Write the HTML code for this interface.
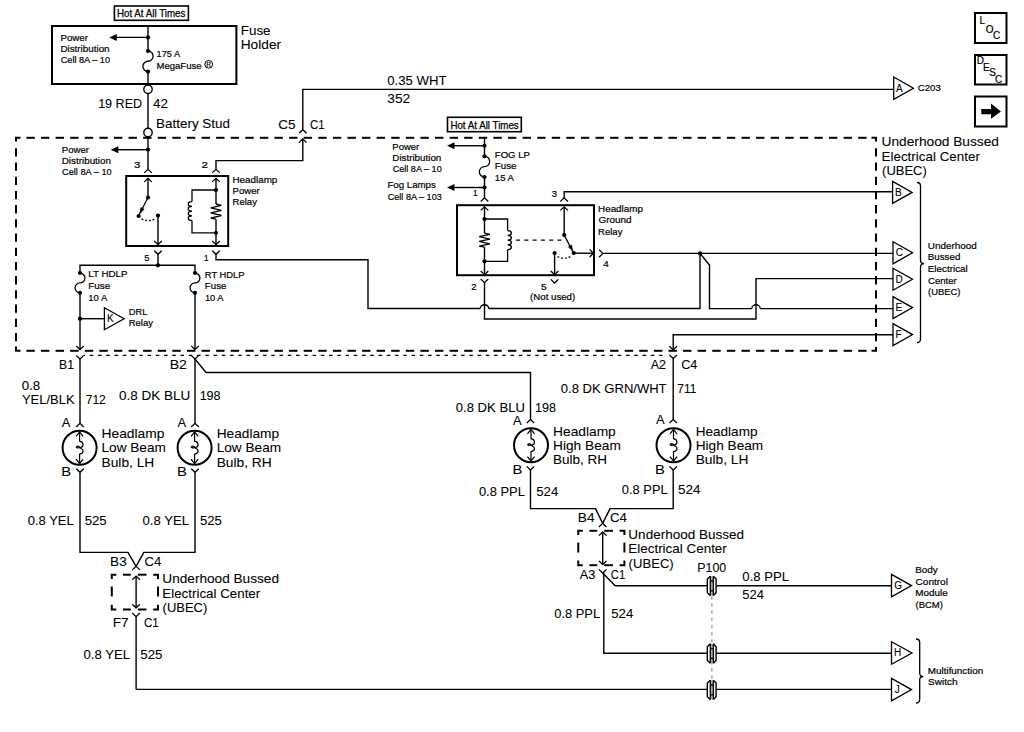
<!DOCTYPE html>
<html><head><meta charset="utf-8"><style>
html,body{margin:0;padding:0;background:#fff;}
svg{display:block;}
text{font-family:"Liberation Sans",sans-serif;fill:#000;stroke:#000;stroke-width:0.08px;}
text.s{stroke-width:0.2px;}
</style></head><body>
<svg width="1024" height="732" viewBox="0 0 1024 732">
<rect width="1024" height="732" fill="#fff"/>
<g stroke="#000" fill="none" stroke-linecap="butt" stroke-linejoin="miter">
<rect x="114.4" y="6" width="74" height="14.3" stroke-width="1.6" fill="none"/>
<text class="s" x="117.00" y="16.8" font-size="10.2" style="stroke-width:0.25px" textLength="68.36" lengthAdjust="spacingAndGlyphs">Hot At All Times</text>
<rect x="52" y="26" width="184.4" height="58" stroke-width="2" fill="none"/>
<line x1="148" y1="26" x2="148" y2="51" stroke-width="1.4"/>
<line x1="148" y1="71.5" x2="148" y2="85" stroke-width="1.4"/>
<line x1="148" y1="37.4" x2="115.3" y2="37.4" stroke-width="1.4"/>
<path d="M109.3,37.4 L116.8,33.9 L116.8,40.9 Z" fill="#000" stroke="none"/>
<circle cx="148" cy="37.4" r="2.1" fill="#000" stroke="none"/>
<path d="M148,51 A5.125,5.125 0 0 1 148,61.25 A5.125,5.125 0 0 0 148,71.5" stroke-width="1.3" />
<circle cx="148" cy="51" r="2.1" fill="#000" stroke="none"/>
<circle cx="148" cy="71.5" r="2.1" fill="#000" stroke="none"/>
<text class="s" x="60.46" y="40.9" font-size="9.4"  textLength="27.46" lengthAdjust="spacingAndGlyphs">Power</text>
<text class="s" x="60.44" y="51.95" font-size="9.4"  textLength="49.14" lengthAdjust="spacingAndGlyphs">Distribution</text>
<text class="s" x="60.78" y="63.0" font-size="9.4"  textLength="49.23" lengthAdjust="spacingAndGlyphs">Cell 8A – 10</text>
<text class="s" x="156.60" y="57.3" font-size="9.4"  textLength="23.42" lengthAdjust="spacingAndGlyphs">175 A</text>
<text class="s" x="156.52" y="68.75" font-size="9.4"  textLength="45.01" lengthAdjust="spacingAndGlyphs">MegaFuse</text>
<circle cx="208.7" cy="64.3" r="3.9" stroke-width="1" fill="none"/>
<text class="s" x="208.70" y="67.2" font-size="6.5" text-anchor="middle" >R</text>
<text x="240.70" y="34.6" font-size="12.8"  textLength="29.90" lengthAdjust="spacingAndGlyphs">Fuse</text>
<text x="240.67" y="48.8" font-size="12.8"  textLength="40.46" lengthAdjust="spacingAndGlyphs">Holder</text>
<circle cx="148" cy="89.3" r="4.2" stroke-width="1.4" fill="#fff"/>
<line x1="148" y1="93.5" x2="148" y2="128.3" stroke-width="1.4"/>
<text x="98.14" y="107.5" font-size="12.8"  textLength="44.07" lengthAdjust="spacingAndGlyphs">19 RED</text>
<text x="152.99" y="107.5" font-size="12.8"  textLength="14.99" lengthAdjust="spacingAndGlyphs">42</text>
<text x="156.00" y="127.5" font-size="12.8"  textLength="74.06" lengthAdjust="spacingAndGlyphs">Battery Stud</text>
<circle cx="148" cy="132.5" r="4.2" stroke-width="1.4" fill="#fff"/>
<line x1="148" y1="136.7" x2="148" y2="169" stroke-width="1.4"/>
<polyline points="16,141.5 16,137.8 20.5,137.8" stroke-width="2"/>
<polyline points="871.5,137.8 876,137.8 876,141.5" stroke-width="2"/>
<polyline points="16,346.6 16,350.8 20.5,350.8" stroke-width="2"/>
<polyline points="871.5,350.8 876,350.8 876,347.1" stroke-width="2"/>
<line x1="26.4" y1="137.8" x2="34.8" y2="137.8" stroke-width="2"/>
<line x1="26.4" y1="350.8" x2="34.8" y2="350.8" stroke-width="2"/>
<line x1="40.99" y1="137.8" x2="49.39" y2="137.8" stroke-width="2"/>
<line x1="40.99" y1="350.8" x2="49.39" y2="350.8" stroke-width="2"/>
<line x1="55.59" y1="137.8" x2="63.99" y2="137.8" stroke-width="2"/>
<line x1="55.59" y1="350.8" x2="63.99" y2="350.8" stroke-width="2"/>
<line x1="70.18" y1="137.8" x2="78.58" y2="137.8" stroke-width="2"/>
<line x1="70.18" y1="350.8" x2="78.58" y2="350.8" stroke-width="2"/>
<line x1="84.77" y1="137.8" x2="93.17" y2="137.8" stroke-width="2"/>
<line x1="84.77" y1="350.8" x2="93.17" y2="350.8" stroke-width="2"/>
<line x1="99.37" y1="137.8" x2="107.77" y2="137.8" stroke-width="2"/>
<line x1="99.37" y1="350.8" x2="107.77" y2="350.8" stroke-width="2"/>
<line x1="113.96" y1="137.8" x2="122.36" y2="137.8" stroke-width="2"/>
<line x1="113.96" y1="350.8" x2="122.36" y2="350.8" stroke-width="2"/>
<line x1="128.55" y1="137.8" x2="136.95" y2="137.8" stroke-width="2"/>
<line x1="128.55" y1="350.8" x2="136.95" y2="350.8" stroke-width="2"/>
<line x1="143.14" y1="137.8" x2="151.54" y2="137.8" stroke-width="2"/>
<line x1="143.14" y1="350.8" x2="151.54" y2="350.8" stroke-width="2"/>
<line x1="157.74" y1="137.8" x2="166.14" y2="137.8" stroke-width="2"/>
<line x1="157.74" y1="350.8" x2="166.14" y2="350.8" stroke-width="2"/>
<line x1="172.33" y1="137.8" x2="180.73" y2="137.8" stroke-width="2"/>
<line x1="172.33" y1="350.8" x2="180.73" y2="350.8" stroke-width="2"/>
<line x1="186.92" y1="137.8" x2="195.32" y2="137.8" stroke-width="2"/>
<line x1="186.92" y1="350.8" x2="195.32" y2="350.8" stroke-width="2"/>
<line x1="201.52" y1="137.8" x2="209.92" y2="137.8" stroke-width="2"/>
<line x1="201.52" y1="350.8" x2="209.92" y2="350.8" stroke-width="2"/>
<line x1="216.11" y1="137.8" x2="224.51" y2="137.8" stroke-width="2"/>
<line x1="216.11" y1="350.8" x2="224.51" y2="350.8" stroke-width="2"/>
<line x1="230.7" y1="137.8" x2="239.1" y2="137.8" stroke-width="2"/>
<line x1="230.7" y1="350.8" x2="239.1" y2="350.8" stroke-width="2"/>
<line x1="245.3" y1="137.8" x2="253.7" y2="137.8" stroke-width="2"/>
<line x1="245.3" y1="350.8" x2="253.7" y2="350.8" stroke-width="2"/>
<line x1="259.89" y1="137.8" x2="268.29" y2="137.8" stroke-width="2"/>
<line x1="259.89" y1="350.8" x2="268.29" y2="350.8" stroke-width="2"/>
<line x1="274.48" y1="137.8" x2="282.88" y2="137.8" stroke-width="2"/>
<line x1="274.48" y1="350.8" x2="282.88" y2="350.8" stroke-width="2"/>
<line x1="289.07" y1="137.8" x2="297.47" y2="137.8" stroke-width="2"/>
<line x1="289.07" y1="350.8" x2="297.47" y2="350.8" stroke-width="2"/>
<line x1="303.67" y1="137.8" x2="312.07" y2="137.8" stroke-width="2"/>
<line x1="303.67" y1="350.8" x2="312.07" y2="350.8" stroke-width="2"/>
<line x1="318.26" y1="137.8" x2="326.66" y2="137.8" stroke-width="2"/>
<line x1="318.26" y1="350.8" x2="326.66" y2="350.8" stroke-width="2"/>
<line x1="332.85" y1="137.8" x2="341.25" y2="137.8" stroke-width="2"/>
<line x1="332.85" y1="350.8" x2="341.25" y2="350.8" stroke-width="2"/>
<line x1="347.45" y1="137.8" x2="355.85" y2="137.8" stroke-width="2"/>
<line x1="347.45" y1="350.8" x2="355.85" y2="350.8" stroke-width="2"/>
<line x1="362.04" y1="137.8" x2="370.44" y2="137.8" stroke-width="2"/>
<line x1="362.04" y1="350.8" x2="370.44" y2="350.8" stroke-width="2"/>
<line x1="376.63" y1="137.8" x2="385.03" y2="137.8" stroke-width="2"/>
<line x1="376.63" y1="350.8" x2="385.03" y2="350.8" stroke-width="2"/>
<line x1="391.22" y1="137.8" x2="399.62" y2="137.8" stroke-width="2"/>
<line x1="391.22" y1="350.8" x2="399.62" y2="350.8" stroke-width="2"/>
<line x1="405.82" y1="137.8" x2="414.22" y2="137.8" stroke-width="2"/>
<line x1="405.82" y1="350.8" x2="414.22" y2="350.8" stroke-width="2"/>
<line x1="420.41" y1="137.8" x2="428.81" y2="137.8" stroke-width="2"/>
<line x1="420.41" y1="350.8" x2="428.81" y2="350.8" stroke-width="2"/>
<line x1="435.0" y1="137.8" x2="443.4" y2="137.8" stroke-width="2"/>
<line x1="435.0" y1="350.8" x2="443.4" y2="350.8" stroke-width="2"/>
<line x1="449.6" y1="137.8" x2="458.0" y2="137.8" stroke-width="2"/>
<line x1="449.6" y1="350.8" x2="458.0" y2="350.8" stroke-width="2"/>
<line x1="464.19" y1="137.8" x2="472.59" y2="137.8" stroke-width="2"/>
<line x1="464.19" y1="350.8" x2="472.59" y2="350.8" stroke-width="2"/>
<line x1="478.78" y1="137.8" x2="487.18" y2="137.8" stroke-width="2"/>
<line x1="478.78" y1="350.8" x2="487.18" y2="350.8" stroke-width="2"/>
<line x1="493.38" y1="137.8" x2="501.78" y2="137.8" stroke-width="2"/>
<line x1="493.38" y1="350.8" x2="501.78" y2="350.8" stroke-width="2"/>
<line x1="507.97" y1="137.8" x2="516.37" y2="137.8" stroke-width="2"/>
<line x1="507.97" y1="350.8" x2="516.37" y2="350.8" stroke-width="2"/>
<line x1="522.56" y1="137.8" x2="530.96" y2="137.8" stroke-width="2"/>
<line x1="522.56" y1="350.8" x2="530.96" y2="350.8" stroke-width="2"/>
<line x1="537.15" y1="137.8" x2="545.55" y2="137.8" stroke-width="2"/>
<line x1="537.15" y1="350.8" x2="545.55" y2="350.8" stroke-width="2"/>
<line x1="551.75" y1="137.8" x2="560.15" y2="137.8" stroke-width="2"/>
<line x1="551.75" y1="350.8" x2="560.15" y2="350.8" stroke-width="2"/>
<line x1="566.34" y1="137.8" x2="574.74" y2="137.8" stroke-width="2"/>
<line x1="566.34" y1="350.8" x2="574.74" y2="350.8" stroke-width="2"/>
<line x1="580.93" y1="137.8" x2="589.33" y2="137.8" stroke-width="2"/>
<line x1="580.93" y1="350.8" x2="589.33" y2="350.8" stroke-width="2"/>
<line x1="595.53" y1="137.8" x2="603.93" y2="137.8" stroke-width="2"/>
<line x1="595.53" y1="350.8" x2="603.93" y2="350.8" stroke-width="2"/>
<line x1="610.12" y1="137.8" x2="618.52" y2="137.8" stroke-width="2"/>
<line x1="610.12" y1="350.8" x2="618.52" y2="350.8" stroke-width="2"/>
<line x1="624.71" y1="137.8" x2="633.11" y2="137.8" stroke-width="2"/>
<line x1="624.71" y1="350.8" x2="633.11" y2="350.8" stroke-width="2"/>
<line x1="639.31" y1="137.8" x2="647.71" y2="137.8" stroke-width="2"/>
<line x1="639.31" y1="350.8" x2="647.71" y2="350.8" stroke-width="2"/>
<line x1="653.9" y1="137.8" x2="662.3" y2="137.8" stroke-width="2"/>
<line x1="653.9" y1="350.8" x2="662.3" y2="350.8" stroke-width="2"/>
<line x1="668.49" y1="137.8" x2="676.89" y2="137.8" stroke-width="2"/>
<line x1="668.49" y1="350.8" x2="676.89" y2="350.8" stroke-width="2"/>
<line x1="683.08" y1="137.8" x2="691.48" y2="137.8" stroke-width="2"/>
<line x1="683.08" y1="350.8" x2="691.48" y2="350.8" stroke-width="2"/>
<line x1="697.68" y1="137.8" x2="706.08" y2="137.8" stroke-width="2"/>
<line x1="697.68" y1="350.8" x2="706.08" y2="350.8" stroke-width="2"/>
<line x1="712.27" y1="137.8" x2="720.67" y2="137.8" stroke-width="2"/>
<line x1="712.27" y1="350.8" x2="720.67" y2="350.8" stroke-width="2"/>
<line x1="726.86" y1="137.8" x2="735.26" y2="137.8" stroke-width="2"/>
<line x1="726.86" y1="350.8" x2="735.26" y2="350.8" stroke-width="2"/>
<line x1="741.46" y1="137.8" x2="749.86" y2="137.8" stroke-width="2"/>
<line x1="741.46" y1="350.8" x2="749.86" y2="350.8" stroke-width="2"/>
<line x1="756.05" y1="137.8" x2="764.45" y2="137.8" stroke-width="2"/>
<line x1="756.05" y1="350.8" x2="764.45" y2="350.8" stroke-width="2"/>
<line x1="770.64" y1="137.8" x2="779.04" y2="137.8" stroke-width="2"/>
<line x1="770.64" y1="350.8" x2="779.04" y2="350.8" stroke-width="2"/>
<line x1="785.24" y1="137.8" x2="793.64" y2="137.8" stroke-width="2"/>
<line x1="785.24" y1="350.8" x2="793.64" y2="350.8" stroke-width="2"/>
<line x1="799.83" y1="137.8" x2="808.23" y2="137.8" stroke-width="2"/>
<line x1="799.83" y1="350.8" x2="808.23" y2="350.8" stroke-width="2"/>
<line x1="814.42" y1="137.8" x2="822.82" y2="137.8" stroke-width="2"/>
<line x1="814.42" y1="350.8" x2="822.82" y2="350.8" stroke-width="2"/>
<line x1="829.01" y1="137.8" x2="837.41" y2="137.8" stroke-width="2"/>
<line x1="829.01" y1="350.8" x2="837.41" y2="350.8" stroke-width="2"/>
<line x1="843.61" y1="137.8" x2="852.01" y2="137.8" stroke-width="2"/>
<line x1="843.61" y1="350.8" x2="852.01" y2="350.8" stroke-width="2"/>
<line x1="858.2" y1="137.8" x2="866.6" y2="137.8" stroke-width="2"/>
<line x1="858.2" y1="350.8" x2="866.6" y2="350.8" stroke-width="2"/>
<line x1="16" y1="148.3" x2="16" y2="156.6" stroke-width="2"/>
<line x1="876" y1="148.3" x2="876" y2="156.6" stroke-width="2"/>
<line x1="16" y1="162.5" x2="16" y2="170.8" stroke-width="2"/>
<line x1="876" y1="162.5" x2="876" y2="170.8" stroke-width="2"/>
<line x1="16" y1="176.7" x2="16" y2="185.0" stroke-width="2"/>
<line x1="876" y1="176.7" x2="876" y2="185.0" stroke-width="2"/>
<line x1="16" y1="190.9" x2="16" y2="199.2" stroke-width="2"/>
<line x1="876" y1="190.9" x2="876" y2="199.2" stroke-width="2"/>
<line x1="16" y1="205.1" x2="16" y2="213.4" stroke-width="2"/>
<line x1="876" y1="205.1" x2="876" y2="213.4" stroke-width="2"/>
<line x1="16" y1="219.3" x2="16" y2="227.6" stroke-width="2"/>
<line x1="876" y1="219.3" x2="876" y2="227.6" stroke-width="2"/>
<line x1="16" y1="233.5" x2="16" y2="241.8" stroke-width="2"/>
<line x1="876" y1="233.5" x2="876" y2="241.8" stroke-width="2"/>
<line x1="16" y1="247.7" x2="16" y2="256.0" stroke-width="2"/>
<line x1="876" y1="247.7" x2="876" y2="256.0" stroke-width="2"/>
<line x1="16" y1="261.9" x2="16" y2="270.2" stroke-width="2"/>
<line x1="876" y1="261.9" x2="876" y2="270.2" stroke-width="2"/>
<line x1="16" y1="276.1" x2="16" y2="284.4" stroke-width="2"/>
<line x1="876" y1="276.1" x2="876" y2="284.4" stroke-width="2"/>
<line x1="16" y1="290.3" x2="16" y2="298.6" stroke-width="2"/>
<line x1="876" y1="290.3" x2="876" y2="298.6" stroke-width="2"/>
<line x1="16" y1="304.5" x2="16" y2="312.8" stroke-width="2"/>
<line x1="876" y1="304.5" x2="876" y2="312.8" stroke-width="2"/>
<line x1="16" y1="318.7" x2="16" y2="327.0" stroke-width="2"/>
<line x1="876" y1="318.7" x2="876" y2="327.0" stroke-width="2"/>
<line x1="16" y1="332.9" x2="16" y2="341.2" stroke-width="2"/>
<line x1="876" y1="332.9" x2="876" y2="341.2" stroke-width="2"/>
<text x="881.54" y="146" font-size="12.8"  textLength="117.44" lengthAdjust="spacingAndGlyphs">Underhood Bussed</text>
<text x="881.50" y="160.6" font-size="12.8"  textLength="98.43" lengthAdjust="spacingAndGlyphs">Electrical Center</text>
<text x="882.10" y="174.5" font-size="12.8"  textLength="44.71" lengthAdjust="spacingAndGlyphs">(UBEC)</text>
<text class="s" x="61.71" y="152.9" font-size="9.4"  textLength="27.36" lengthAdjust="spacingAndGlyphs">Power</text>
<text class="s" x="61.69" y="164.15" font-size="9.4"  textLength="49.35" lengthAdjust="spacingAndGlyphs">Distribution</text>
<text class="s" x="62.03" y="175.4" font-size="9.4"  textLength="49.63" lengthAdjust="spacingAndGlyphs">Cell 8A – 10</text>
<line x1="148" y1="149.7" x2="116.8" y2="149.7" stroke-width="1.4"/>
<path d="M110.8,149.7 L118.3,146.2 L118.3,153.2 Z" fill="#000" stroke="none"/>
<circle cx="148" cy="149.7" r="2.1" fill="#000" stroke="none"/>
<text class="s" x="134.07" y="167.9" font-size="9.4"  textLength="6.34" lengthAdjust="spacingAndGlyphs">3</text>
<text class="s" x="201.62" y="167.9" font-size="9.4"  textLength="6.46" lengthAdjust="spacingAndGlyphs">2</text>
<path d="M144.2,172.9 L148,169.3 L151.8,172.9" stroke-width="1.3" />
<rect x="126.2" y="176" width="102" height="70" stroke-width="2" fill="none"/>
<path d="M144.2,181.9 L148,178.3 L151.8,181.9" stroke-width="1.3" />
<line x1="148" y1="178.3" x2="148" y2="197.5" stroke-width="1.4"/>
<circle cx="148" cy="197.5" r="2.1" fill="#000" stroke="none"/>
<line x1="148" y1="197.5" x2="138.6" y2="215.8" stroke-width="1.3"/>
<path d="M140.2,213.2 L144.2,209.2 L140.8,207.5 Z" fill="#000" stroke="#000" stroke-width="0.6"/>
<circle cx="138.6" cy="216" r="2.1" fill="#000" stroke="none"/>
<path d="M141.5,218.8 Q149,222.5 156,218.6" stroke-width="1.4" stroke-dasharray="1.9 1.9" fill="none"/>
<circle cx="158" cy="215.6" r="2.1" fill="#000" stroke="none"/>
<line x1="158" y1="215.6" x2="158" y2="245" stroke-width="1.4"/>
<path d="M154.2,241.0 L158,244.6 L161.8,241.0" stroke-width="1.3" />
<path d="M154.2,250.70000000000002 L158,254.3 L161.8,250.70000000000002" stroke-width="1.3" />
<line x1="158" y1="254.3" x2="158" y2="265.3" stroke-width="1.4"/>
<polyline points="216,190 192,190 192,201.6" stroke-width="1.3"/>
<path d="M192,201.6 C187,201.6 187,206.325 192,206.325 C187,206.325 187,211.04999999999998 192,211.04999999999998 C187,211.05 187,215.775 192,215.775 C187,215.775 187,220.5 192,220.5" stroke-width="1.3" />
<polyline points="192,220.5 192,232.8 216,232.8" stroke-width="1.3"/>
<path d="M212.2,181.9 L216,178.3 L219.8,181.9" stroke-width="1.3" />
<line x1="216" y1="178.3" x2="216" y2="204" stroke-width="1.4"/>
<polyline points="216,204 221.4,205.46 210.7,207.9 221.4,210.43 210.7,212.87 221.4,215.5 210.7,218.13 216,219.2" stroke-width="1.3"/>
<line x1="216" y1="219.2" x2="216" y2="245" stroke-width="1.4"/>
<path d="M212.2,241.0 L216,244.6 L219.8,241.0" stroke-width="1.3" />
<circle cx="216" cy="190" r="2.1" fill="#000" stroke="none"/>
<circle cx="216" cy="232.8" r="2.1" fill="#000" stroke="none"/>
<path d="M212.2,250.70000000000002 L216,254.3 L219.8,250.70000000000002" stroke-width="1.3" />
<polyline points="216,254.3 216,259.8 368,259.8 368,308.5 480.3,308.5" stroke-width="1.4"/>
<path d="M480.3,308.5 A4.2,3.8 0 0 1 488.7,308.5" stroke-width="1.4" />
<polyline points="488.7,308.5 700,308.5 700,253.4" stroke-width="1.4"/>
<path d="M212.2,172.9 L216,169.3 L219.8,172.9" stroke-width="1.3" />
<polyline points="216,169.3 216,160.6 302.8,160.6 302.8,139" stroke-width="1.4"/>
<path d="M299.0,142.6 L302.8,139 L306.6,142.6" stroke-width="1.3" />
<path d="M299.0,133.29999999999998 L302.8,129.7 L306.6,133.29999999999998" stroke-width="1.3" />
<polyline points="302.8,129.7 302.8,89.4 893.5,89.4" stroke-width="1.4"/>
<text x="278.31" y="129.1" font-size="12.8"  textLength="17.37" lengthAdjust="spacingAndGlyphs">C5</text>
<text x="309.92" y="129.1" font-size="12.8"  textLength="14.65" lengthAdjust="spacingAndGlyphs">C1</text>
<text x="387.29" y="84.8" font-size="12.8"  textLength="59.22" lengthAdjust="spacingAndGlyphs">0.35 WHT</text>
<text x="387.28" y="102.8" font-size="12.8"  textLength="22.92" lengthAdjust="spacingAndGlyphs">352</text>
<path d="M893.7,77.0 L913.4000000000001,88.2 L893.7,99.4 Z" stroke-width="1.3" fill="#fff"/>
<text class="s" x="896.08" y="91.60000000000001" font-size="10" style="stroke-width:0.1px">A</text>
<text class="s" x="917.81" y="90.8" font-size="9.4"  textLength="23.02" lengthAdjust="spacingAndGlyphs">C203</text>
<text class="s" x="144.22" y="261.2" font-size="9.4" >5</text>
<text class="s" x="203.98" y="261.2" font-size="9.4"  textLength="4.52" lengthAdjust="spacingAndGlyphs">1</text>
<text class="s" x="232.49" y="182.5" font-size="9.4"  textLength="44.82" lengthAdjust="spacingAndGlyphs">Headlamp</text>
<text class="s" x="232.51" y="193.8" font-size="9.4"  textLength="27.15" lengthAdjust="spacingAndGlyphs">Power</text>
<text class="s" x="232.52" y="205.1" font-size="9.4"  textLength="24.40" lengthAdjust="spacingAndGlyphs">Relay</text>
<polyline points="80,273 80,265.2 195,265.2 195,273" stroke-width="1.4"/>
<circle cx="158" cy="265.3" r="2.1" fill="#000" stroke="none"/>
<path d="M80,273 A4.950000000000003,4.950000000000003 0 0 1 80,282.9 A4.950000000000003,4.950000000000003 0 0 0 80,292.8" stroke-width="1.3" />
<circle cx="80" cy="273" r="2.1" fill="#000" stroke="none"/>
<circle cx="80" cy="292.8" r="2.1" fill="#000" stroke="none"/>
<path d="M195,273 A4.950000000000003,4.950000000000003 0 0 1 195,282.9 A4.950000000000003,4.950000000000003 0 0 0 195,292.8" stroke-width="1.3" />
<circle cx="195" cy="273" r="2.1" fill="#000" stroke="none"/>
<circle cx="195" cy="292.8" r="2.1" fill="#000" stroke="none"/>
<text class="s" x="88.20" y="277.4" font-size="9.4"  textLength="39.22" lengthAdjust="spacingAndGlyphs">LT HDLP</text>
<text class="s" x="88.19" y="289.15" font-size="9.4"  textLength="21.95" lengthAdjust="spacingAndGlyphs">Fuse</text>
<text class="s" x="88.28" y="300.9" font-size="9.4"  textLength="18.94" lengthAdjust="spacingAndGlyphs">10 A</text>
<text class="s" x="204.83" y="277.6" font-size="9.4"  textLength="39.77" lengthAdjust="spacingAndGlyphs">RT HDLP</text>
<text class="s" x="204.80" y="289.35" font-size="9.4"  textLength="21.73" lengthAdjust="spacingAndGlyphs">Fuse</text>
<text class="s" x="204.89" y="301.1" font-size="9.4"  textLength="18.73" lengthAdjust="spacingAndGlyphs">10 A</text>
<line x1="80" y1="292.8" x2="80" y2="349.5" stroke-width="1.4"/>
<path d="M76.2,345.9 L80,349.5 L83.8,345.9" stroke-width="1.3" />
<line x1="195" y1="292.8" x2="195" y2="349.5" stroke-width="1.4"/>
<path d="M191.2,345.9 L195,349.5 L198.8,345.9" stroke-width="1.3" />
<circle cx="80" cy="318.7" r="2.1" fill="#000" stroke="none"/>
<line x1="80" y1="318.7" x2="104.4" y2="318.7" stroke-width="1.4"/>
<path d="M104.4,307.7 L124.10000000000001,318.7 L104.4,329.7 Z" stroke-width="1.3" fill="#fff"/>
<text class="s" x="106.88" y="322.09999999999997" font-size="10" style="stroke-width:0.1px">K</text>
<text class="s" x="128.74" y="315.4" font-size="9.4"  textLength="18.57" lengthAdjust="spacingAndGlyphs">DRL</text>
<text class="s" x="128.72" y="326.2" font-size="9.4"  textLength="24.19" lengthAdjust="spacingAndGlyphs">Relay</text>
<rect x="447.5" y="117.3" width="73.8" height="14.4" stroke-width="1.6" fill="none"/>
<text class="s" x="450.40" y="128.5" font-size="10.2" style="stroke-width:0.25px" textLength="68.36" lengthAdjust="spacingAndGlyphs">Hot At All Times</text>
<line x1="484.5" y1="138" x2="484.5" y2="156.25" stroke-width="1.4"/>
<line x1="484.5" y1="145.75" x2="453" y2="145.75" stroke-width="1.4"/>
<path d="M447,145.75 L454.5,142.25 L454.5,149.25 Z" fill="#000" stroke="none"/>
<circle cx="484.5" cy="145.75" r="2.1" fill="#000" stroke="none"/>
<path d="M484.5,156.25 A5.1875,5.1875 0 0 1 484.5,166.625 A5.1875,5.1875 0 0 0 484.5,177" stroke-width="1.3" />
<circle cx="484.5" cy="156.25" r="2.1" fill="#000" stroke="none"/>
<circle cx="484.5" cy="177" r="2.1" fill="#000" stroke="none"/>
<line x1="484.5" y1="177" x2="484.5" y2="197.9" stroke-width="1.4"/>
<line x1="484.5" y1="187.5" x2="453" y2="187.5" stroke-width="1.4"/>
<path d="M447,187.5 L454.5,184.0 L454.5,191.0 Z" fill="#000" stroke="none"/>
<circle cx="484.5" cy="187.5" r="2.1" fill="#000" stroke="none"/>
<text class="s" x="392.32" y="149.5" font-size="9.4"  textLength="26.84" lengthAdjust="spacingAndGlyphs">Power</text>
<text class="s" x="392.30" y="160.5" font-size="9.4"  textLength="49.04" lengthAdjust="spacingAndGlyphs">Distribution</text>
<text class="s" x="392.64" y="171.5" font-size="9.4"  textLength="49.13" lengthAdjust="spacingAndGlyphs">Cell 8A – 10</text>
<text class="s" x="387.41" y="188.3" font-size="9.4"  textLength="48.45" lengthAdjust="spacingAndGlyphs">Fog Lamps</text>
<text class="s" x="387.74" y="200.0" font-size="9.4"  textLength="54.06" lengthAdjust="spacingAndGlyphs">Cell 8A – 103</text>
<text class="s" x="494.82" y="157.6" font-size="9.4"  textLength="34.99" lengthAdjust="spacingAndGlyphs">FOG LP</text>
<text class="s" x="494.80" y="169.3" font-size="9.4"  textLength="21.73" lengthAdjust="spacingAndGlyphs">Fuse</text>
<text class="s" x="494.88" y="181.0" font-size="9.4"  textLength="19.04" lengthAdjust="spacingAndGlyphs">15 A</text>
<text class="s" x="472.98" y="196.4" font-size="9.4"  textLength="4.52" lengthAdjust="spacingAndGlyphs">1</text>
<text class="s" x="551.74" y="197.1" font-size="9.4" >3</text>
<path d="M480.7,201.5 L484.5,197.9 L488.3,201.5" stroke-width="1.3" />
<rect x="457" y="205.2" width="137" height="70" stroke-width="2" fill="none"/>
<path d="M480.7,210.4 L484.5,206.8 L488.3,210.4" stroke-width="1.3" />
<line x1="484.5" y1="206.8" x2="484.5" y2="233.1" stroke-width="1.4"/>
<polyline points="484.5,233.1 489.9,234.46 479.2,236.72 489.9,239.07 479.2,241.32 489.9,243.77 479.2,246.21 484.5,247.2" stroke-width="1.3"/>
<line x1="484.5" y1="247.2" x2="484.5" y2="274.6" stroke-width="1.4"/>
<path d="M480.7,271.0 L484.5,274.6 L488.3,271.0" stroke-width="1.3" />
<polyline points="484.5,219 507.6,219 507.6,230.6" stroke-width="1.3"/>
<path d="M507.6,230.6 C512.6,230.6 512.6,235.375 507.6,235.375 C512.6,235.375 512.6,240.15 507.6,240.15 C512.6,240.14999999999998 512.6,244.92499999999998 507.6,244.92499999999998 C512.6,244.92499999999998 512.6,249.7 507.6,249.7" stroke-width="1.3" />
<polyline points="507.6,249.7 507.6,261.3 484.5,261.3" stroke-width="1.3"/>
<circle cx="484.5" cy="219" r="2.1" fill="#000" stroke="none"/>
<circle cx="484.5" cy="261.3" r="2.1" fill="#000" stroke="none"/>
<line x1="516" y1="240.1" x2="563" y2="240.1" stroke-width="1.2" stroke-dasharray="4 4.3" stroke-dashoffset="0"/>
<path d="M560.4000000000001,210.4 L564.2,206.8 L568.0,210.4" stroke-width="1.3" />
<line x1="564.2" y1="206.8" x2="564.2" y2="235.1" stroke-width="1.4"/>
<circle cx="564.2" cy="235.1" r="2.1" fill="#000" stroke="none"/>
<line x1="564.2" y1="235.1" x2="573.7" y2="253" stroke-width="1.3"/>
<path d="M572.4,250.6 L571.7,245 L568.4,246.8 Z" fill="#000" stroke="#000" stroke-width="0.6"/>
<circle cx="573.7" cy="253" r="2.1" fill="#000" stroke="none"/>
<line x1="573.7" y1="253.2" x2="593.3" y2="253.2" stroke-width="1.4"/>
<path d="M589.6999999999999,249.39999999999998 L593.3,253.2 L589.6999999999999,257.0" stroke-width="1.3" />
<circle cx="554.6" cy="253" r="2.1" fill="#000" stroke="none"/>
<path d="M557.5,256.5 Q564,260 571.5,256" stroke-width="1.4" stroke-dasharray="1.9 1.9" fill="none"/>
<line x1="554.6" y1="253" x2="554.6" y2="274.6" stroke-width="1.4"/>
<path d="M550.8000000000001,271.0 L554.6,274.6 L558.4,271.0" stroke-width="1.3" />
<path d="M550.8000000000001,279.4 L554.6,283 L558.4,279.4" stroke-width="1.3" />
<path d="M599.1,249.6 L602.7,253.4 L599.1,257.2" stroke-width="1.3" />
<polyline points="602.7,253.4 893,253.4" stroke-width="1.4"/>
<circle cx="700" cy="253.4" r="2.1" fill="#000" stroke="none"/>
<polyline points="564.2,197.9 564.2,191.8 893,191.8" stroke-width="1.4"/>
<path d="M560.4000000000001,201.5 L564.2,197.9 L568.0,201.5" stroke-width="1.3" />
<text class="s" x="603.17" y="267.4" font-size="9.4"  textLength="5.52" lengthAdjust="spacingAndGlyphs">4</text>
<text class="s" x="541.09" y="290.4" font-size="9.4"  textLength="5.63" lengthAdjust="spacingAndGlyphs">5</text>
<text class="s" x="471.13" y="290.4" font-size="9.4" >2</text>
<text class="s" x="530.10" y="300.3" font-size="9.4"  textLength="45.10" lengthAdjust="spacingAndGlyphs">(Not used)</text>
<text class="s" x="598.09" y="211.5" font-size="9.4"  textLength="44.82" lengthAdjust="spacingAndGlyphs">Headlamp</text>
<text class="s" x="598.40" y="223.15" font-size="9.4"  textLength="33.24" lengthAdjust="spacingAndGlyphs">Ground</text>
<text class="s" x="598.12" y="234.8" font-size="9.4"  textLength="24.29" lengthAdjust="spacingAndGlyphs">Relay</text>
<path d="M480.7,279.0 L484.5,282.6 L488.3,279.0" stroke-width="1.3" />
<polyline points="484.5,282.6 484.5,319 756,319 756,278.6 893,278.6" stroke-width="1.4"/>
<polyline points="700,253.4 709.5,265 709.5,308.6 751.8,308.6" stroke-width="1.4"/>
<path d="M751.8,308.6 A4.2,3.8 0 0 1 760.2,308.6" stroke-width="1.4" />
<polyline points="760.2,308.6 893,308.6" stroke-width="1.4"/>
<polyline points="673.2,349.9 673.2,334.8 893,334.8" stroke-width="1.4"/>
<path d="M669.4000000000001,346.29999999999995 L673.2,349.9 L677.0,346.29999999999995" stroke-width="1.3" />
<path d="M892.6,181.4 L912.1,192.4 L892.6,203.4 Z" stroke-width="1.3" fill="#fff"/>
<text class="s" x="895.08" y="195.8" font-size="10" style="stroke-width:0.1px">B</text>
<path d="M893,241.8 L912.5,252.8 L893,263.8 Z" stroke-width="1.3" fill="#fff"/>
<text class="s" x="895.79" y="256.2" font-size="10" style="stroke-width:0.1px">C</text>
<path d="M893,268.2 L912.5,279.2 L893,290.2 Z" stroke-width="1.3" fill="#fff"/>
<text class="s" x="895.48" y="282.59999999999997" font-size="10" style="stroke-width:0.1px">D</text>
<path d="M893,296.6 L912.5,307.6 L893,318.6 Z" stroke-width="1.3" fill="#fff"/>
<text class="s" x="895.48" y="311.0" font-size="10" style="stroke-width:0.1px">E</text>
<path d="M893,323.6 L912.5,334.6 L893,345.6 Z" stroke-width="1.3" fill="#fff"/>
<text class="s" x="895.48" y="338.0" font-size="10" style="stroke-width:0.1px">F</text>
<path d="M917,182.5 Q920.5,182.5 920.5,186 L920.5,260 Q920.5,263.7 924,263.7 Q920.5,263.7 920.5,267.4 L920.5,339 Q920.5,342.5 917,342.5" stroke-width="1.3" fill="none"/>
<text class="s" x="927.84" y="248.7" font-size="9.4"  textLength="49.00" lengthAdjust="spacingAndGlyphs">Underhood</text>
<text class="s" x="927.80" y="260.3" font-size="9.4"  textLength="32.53" lengthAdjust="spacingAndGlyphs">Bussed</text>
<text class="s" x="927.79" y="271.9" font-size="9.4"  textLength="39.96" lengthAdjust="spacingAndGlyphs">Electrical</text>
<text class="s" x="928.11" y="283.5" font-size="9.4"  textLength="28.65" lengthAdjust="spacingAndGlyphs">Center</text>
<text class="s" x="928.02" y="295.1" font-size="9.4"  textLength="32.47" lengthAdjust="spacingAndGlyphs">(UBEC)</text>
<line x1="84" y1="355.4" x2="664" y2="355.4" stroke-width="1.1" stroke-dasharray="3.5 4.75" stroke-dashoffset="2.45"/>
<path d="M76.2,355.4 L80,359 L83.8,355.4" stroke-width="1.3" />
<line x1="80" y1="359" x2="80" y2="423.4" stroke-width="1.4"/>
<path d="M76.2,427.0 L80,423.4 L83.8,427.0" stroke-width="1.3" />
<text x="59.10" y="369.3" font-size="12.8"  textLength="14.90" lengthAdjust="spacingAndGlyphs">B1</text>
<text x="21.68" y="389.8" font-size="12.8"  textLength="18.49" lengthAdjust="spacingAndGlyphs">0.8</text>
<text x="21.91" y="404.1" font-size="12.8"  textLength="52.74" lengthAdjust="spacingAndGlyphs">YEL/BLK</text>
<text x="85.79" y="404.1" font-size="12.8"  textLength="20.02" lengthAdjust="spacingAndGlyphs">712</text>
<text x="61.67" y="426.9" font-size="12.8"  textLength="8.65" lengthAdjust="spacingAndGlyphs">A</text>
<text x="61.18" y="476.3" font-size="12.8"  textLength="9.90" lengthAdjust="spacingAndGlyphs">B</text>
<circle cx="79.6" cy="447.7" r="17" stroke-width="2" fill="none"/>
<path d="M76.0,436.3 L79.6,431.9 L83.19999999999999,436.3" stroke-width="1.2" />
<path d="M76.0,459.09999999999997 L79.6,463.5 L83.19999999999999,459.09999999999997" stroke-width="1.2" />
<path d="M79.6,431.9 L79.6,441.2 C84.1,442.2 84.1,446.7 80.39999999999999,447.5 C77.1,448.2 75.39999999999999,447.4 76.8,446.5 C78.1,445.7 80.1,446.9 80.39999999999999,448.3 C84.1,449.7 84.1,453.2 79.6,454.2 L79.6,463.5" stroke-width="1.2" />
<path d="M76.2,468.7 L80,472.3 L83.8,468.7" stroke-width="1.3" />
<polyline points="80,472.3 80,552.4 128,552.4 136.1,566.3" stroke-width="1.4"/>
<text x="101.47" y="437.7" font-size="12.8"  textLength="63.02" lengthAdjust="spacingAndGlyphs">Headlamp</text>
<text x="101.48" y="452.3" font-size="12.8"  textLength="64.41" lengthAdjust="spacingAndGlyphs">Low Beam</text>
<text x="101.47" y="466.9" font-size="12.8"  textLength="52.85" lengthAdjust="spacingAndGlyphs">Bulb, LH</text>
<text x="27.69" y="525.4" font-size="12.8"  textLength="46.04" lengthAdjust="spacingAndGlyphs">0.8 YEL</text>
<text x="84.67" y="525.4" font-size="12.8"  textLength="21.99" lengthAdjust="spacingAndGlyphs">525</text>
<path d="M191.2,355.4 L195,359 L198.8,355.4" stroke-width="1.3" />
<line x1="195" y1="359" x2="195" y2="423.4" stroke-width="1.4"/>
<path d="M191.2,427.0 L195,423.4 L198.8,427.0" stroke-width="1.3" />
<polyline points="195,359 206,372.5 530.5,372.5 530.5,419.5" stroke-width="1.4"/>
<text x="169.75" y="369.3" font-size="12.8"  textLength="17.15" lengthAdjust="spacingAndGlyphs">B2</text>
<text x="119.07" y="400" font-size="12.8"  textLength="71.27" lengthAdjust="spacingAndGlyphs">0.8 DK BLU</text>
<text x="199.64" y="400" font-size="12.8"  textLength="21.00" lengthAdjust="spacingAndGlyphs">198</text>
<text x="177.47" y="426.9" font-size="12.8"  textLength="8.65" lengthAdjust="spacingAndGlyphs">A</text>
<text x="176.98" y="476.3" font-size="12.8"  textLength="9.90" lengthAdjust="spacingAndGlyphs">B</text>
<circle cx="194.6" cy="447.7" r="17" stroke-width="2" fill="none"/>
<path d="M191.0,436.3 L194.6,431.9 L198.2,436.3" stroke-width="1.2" />
<path d="M191.0,459.09999999999997 L194.6,463.5 L198.2,459.09999999999997" stroke-width="1.2" />
<path d="M194.6,431.9 L194.6,441.2 C199.1,442.2 199.1,446.7 195.4,447.5 C192.1,448.2 190.4,447.4 191.79999999999998,446.5 C193.1,445.7 195.1,446.9 195.4,448.3 C199.1,449.7 199.1,453.2 194.6,454.2 L194.6,463.5" stroke-width="1.2" />
<path d="M191.2,468.7 L195,472.3 L198.8,468.7" stroke-width="1.3" />
<polyline points="195,472.3 195,552.4 143.8,552.4 136.1,566.3" stroke-width="1.4"/>
<text x="216.68" y="437.7" font-size="12.8"  textLength="62.40" lengthAdjust="spacingAndGlyphs">Headlamp</text>
<text x="216.68" y="452.3" font-size="12.8"  textLength="64.52" lengthAdjust="spacingAndGlyphs">Low Beam</text>
<text x="216.67" y="466.9" font-size="12.8"  textLength="55.05" lengthAdjust="spacingAndGlyphs">Bulb, RH</text>
<text x="142.49" y="525.4" font-size="12.8"  textLength="46.45" lengthAdjust="spacingAndGlyphs">0.8 YEL</text>
<text x="199.97" y="525.4" font-size="12.8"  textLength="21.99" lengthAdjust="spacingAndGlyphs">525</text>
<path d="M132.29999999999998,569.9 L136.1,566.3 L139.9,569.9" stroke-width="1.3" />
<text x="110.09" y="565.5" font-size="12.8"  textLength="16.61" lengthAdjust="spacingAndGlyphs">B3</text>
<text x="144.43" y="565.5" font-size="12.8"  textLength="16.86" lengthAdjust="spacingAndGlyphs">C4</text>
<polyline points="111.8,579.0 111.8,574.7 116.3,574.7" stroke-width="2"/>
<polyline points="153.2,574.7 158,574.7 158,579.0" stroke-width="2"/>
<polyline points="111.8,604.7 111.8,609.5 116.3,609.5" stroke-width="2"/>
<polyline points="153.2,609.5 158,609.5 158,604.7" stroke-width="2"/>
<line x1="123.0" y1="574.7" x2="130.8" y2="574.7" stroke-width="2"/>
<line x1="137.8" y1="574.7" x2="146.5" y2="574.7" stroke-width="2"/>
<line x1="123.0" y1="609.5" x2="130.8" y2="609.5" stroke-width="2"/>
<line x1="137.8" y1="609.5" x2="146.5" y2="609.5" stroke-width="2"/>
<line x1="111.8" y1="586.5" x2="111.8" y2="596.4000000000001" stroke-width="2"/>
<line x1="158" y1="586.5" x2="158" y2="596.4000000000001" stroke-width="2"/>
<line x1="136.1" y1="576.1" x2="136.1" y2="607.8" stroke-width="1.4"/>
<path d="M132.29999999999998,579.7 L136.1,576.1 L139.9,579.7" stroke-width="1.3" />
<path d="M132.29999999999998,604.1999999999999 L136.1,607.8 L139.9,604.1999999999999" stroke-width="1.3" />
<text x="162.35" y="583.1" font-size="12.8"  textLength="116.63" lengthAdjust="spacingAndGlyphs">Underhood Bussed</text>
<text x="162.31" y="597.7" font-size="12.8"  textLength="97.92" lengthAdjust="spacingAndGlyphs">Electrical Center</text>
<text x="162.60" y="612.3" font-size="12.8"  textLength="44.61" lengthAdjust="spacingAndGlyphs">(UBEC)</text>
<path d="M132.29999999999998,613.0 L136.1,616.6 L139.9,613.0" stroke-width="1.3" />
<line x1="136.1" y1="616.6" x2="136.1" y2="689.4" stroke-width="1.4"/>
<text x="112.68" y="627.1" font-size="12.8"  textLength="15.90" lengthAdjust="spacingAndGlyphs">F7</text>
<text x="143.91" y="627.1" font-size="12.8"  textLength="14.76" lengthAdjust="spacingAndGlyphs">C1</text>
<text x="83.49" y="659.3" font-size="12.8"  textLength="46.65" lengthAdjust="spacingAndGlyphs">0.8 YEL</text>
<text x="140.37" y="659.3" font-size="12.8"  textLength="22.09" lengthAdjust="spacingAndGlyphs">525</text>
<polyline points="136.1,689.4 707.4,689.4" stroke-width="1.4"/>
<line x1="716.4" y1="689.4" x2="891.5" y2="689.4" stroke-width="1.4"/>
<path d="M526.7,423.1 L530.5,419.5 L534.3,423.1" stroke-width="1.3" />
<text x="455.79" y="411.5" font-size="12.8"  textLength="69.12" lengthAdjust="spacingAndGlyphs">0.8 DK BLU</text>
<text x="535.05" y="411.5" font-size="12.8"  textLength="20.90" lengthAdjust="spacingAndGlyphs">198</text>
<text x="513.07" y="424.5" font-size="12.8"  textLength="8.65" lengthAdjust="spacingAndGlyphs">A</text>
<text x="512.53" y="473.75" font-size="12.8"  textLength="9.90" lengthAdjust="spacingAndGlyphs">B</text>
<circle cx="531" cy="445.2" r="17" stroke-width="2" fill="none"/>
<path d="M527.4,433.8 L531,429.4 L534.6,433.8" stroke-width="1.2" />
<path d="M527.4,456.59999999999997 L531,461.0 L534.6,456.59999999999997" stroke-width="1.2" />
<path d="M531,429.4 L531,438.7 C535.5,439.7 535.5,444.2 531.8,445.0 C528.5,445.7 526.8,444.9 528.2,444.0 C529.5,443.2 531.5,444.4 531.8,445.8 C535.5,447.2 535.5,450.7 531,451.7 L531,461.0" stroke-width="1.2" />
<path d="M526.7,466.4 L530.5,470 L534.3,466.4" stroke-width="1.3" />
<polyline points="530.5,470 530.5,508.6 595.5,508.6 602.7,523.4" stroke-width="1.4"/>
<text x="553.07" y="435.6" font-size="12.8"  textLength="62.71" lengthAdjust="spacingAndGlyphs">Headlamp</text>
<text x="553.08" y="449.7" font-size="12.8"  textLength="67.72" lengthAdjust="spacingAndGlyphs">High Beam</text>
<text x="553.09" y="463.8" font-size="12.8"  textLength="54.01" lengthAdjust="spacingAndGlyphs">Bulb, RH</text>
<text x="478.90" y="496.2" font-size="12.8"  textLength="45.93" lengthAdjust="spacingAndGlyphs">0.8 PPL</text>
<text x="536.27" y="496.2" font-size="12.8"  textLength="22.02" lengthAdjust="spacingAndGlyphs">524</text>
<path d="M669.4000000000001,354.9 L673.2,358.5 L677.0,354.9" stroke-width="1.3" />
<line x1="673.2" y1="358.5" x2="673.2" y2="419.5" stroke-width="1.4"/>
<path d="M669.4000000000001,423.1 L673.2,419.5 L677.0,423.1" stroke-width="1.3" />
<text x="650.67" y="369.2" font-size="12.8"  textLength="15.35" lengthAdjust="spacingAndGlyphs">A2</text>
<text x="681.15" y="369.2" font-size="12.8"  textLength="16.22" lengthAdjust="spacingAndGlyphs">C4</text>
<text x="560.89" y="393.3" font-size="12.8"  textLength="105.71" lengthAdjust="spacingAndGlyphs">0.8 DK GRN/WHT</text>
<text x="677.29" y="393.3" font-size="12.8"  textLength="18.99" lengthAdjust="spacingAndGlyphs">711</text>
<text x="655.97" y="424.3" font-size="12.8"  textLength="8.65" lengthAdjust="spacingAndGlyphs">A</text>
<text x="655.03" y="473.75" font-size="12.8"  textLength="9.90" lengthAdjust="spacingAndGlyphs">B</text>
<circle cx="673.5" cy="445.2" r="17" stroke-width="2" fill="none"/>
<path d="M669.9,433.8 L673.5,429.4 L677.1,433.8" stroke-width="1.2" />
<path d="M669.9,456.59999999999997 L673.5,461.0 L677.1,456.59999999999997" stroke-width="1.2" />
<path d="M673.5,429.4 L673.5,438.7 C678.0,439.7 678.0,444.2 674.3,445.0 C671.0,445.7 669.3,444.9 670.7,444.0 C672.0,443.2 674.0,444.4 674.3,445.8 C678.0,447.2 678.0,450.7 673.5,451.7 L673.5,461.0" stroke-width="1.2" />
<path d="M669.4000000000001,466.4 L673.2,470 L677.0,466.4" stroke-width="1.3" />
<polyline points="673.2,470 673.2,508.6 610,508.6 602.7,523.4" stroke-width="1.4"/>
<text x="695.69" y="435.6" font-size="12.8"  textLength="61.78" lengthAdjust="spacingAndGlyphs">Headlamp</text>
<text x="695.68" y="449.7" font-size="12.8"  textLength="67.52" lengthAdjust="spacingAndGlyphs">High Beam</text>
<text x="695.67" y="463.8" font-size="12.8"  textLength="52.75" lengthAdjust="spacingAndGlyphs">Bulb, LH</text>
<text x="621.80" y="494.1" font-size="12.8"  textLength="45.93" lengthAdjust="spacingAndGlyphs">0.8 PPL</text>
<text x="678.06" y="494.1" font-size="12.8"  textLength="22.43" lengthAdjust="spacingAndGlyphs">524</text>
<path d="M598.9000000000001,527.0 L602.7,523.4 L606.5,527.0" stroke-width="1.3" />
<text x="577.88" y="522.2" font-size="12.8"  textLength="16.72" lengthAdjust="spacingAndGlyphs">B4</text>
<text x="609.92" y="522.2" font-size="12.8"  textLength="16.97" lengthAdjust="spacingAndGlyphs">C4</text>
<polyline points="578.25,535.0999999999999 578.25,530.8 582.75,530.8" stroke-width="2"/>
<polyline points="619.6,530.8 624.4,530.8 624.4,535.0999999999999" stroke-width="2"/>
<polyline points="578.25,560.4000000000001 578.25,565.2 582.75,565.2" stroke-width="2"/>
<polyline points="619.6,565.2 624.4,565.2 624.4,560.4000000000001" stroke-width="2"/>
<line x1="589.45" y1="530.8" x2="597.25" y2="530.8" stroke-width="2"/>
<line x1="604.25" y1="530.8" x2="612.95" y2="530.8" stroke-width="2"/>
<line x1="589.45" y1="565.2" x2="597.25" y2="565.2" stroke-width="2"/>
<line x1="604.25" y1="565.2" x2="612.95" y2="565.2" stroke-width="2"/>
<line x1="578.25" y1="542.5999999999999" x2="578.25" y2="552.5" stroke-width="2"/>
<line x1="624.4" y1="542.5999999999999" x2="624.4" y2="552.5" stroke-width="2"/>
<line x1="602.7" y1="532" x2="602.7" y2="564.5" stroke-width="1.4"/>
<path d="M598.9000000000001,535.6 L602.7,532 L606.5,535.6" stroke-width="1.3" />
<path d="M598.9000000000001,560.9 L602.7,564.5 L606.5,560.9" stroke-width="1.3" />
<text x="628.36" y="538.8" font-size="12.8"  textLength="115.71" lengthAdjust="spacingAndGlyphs">Underhood Bussed</text>
<text x="628.30" y="553.45" font-size="12.8"  textLength="98.53" lengthAdjust="spacingAndGlyphs">Electrical Center</text>
<text x="628.59" y="568.1" font-size="12.8"  textLength="45.13" lengthAdjust="spacingAndGlyphs">(UBEC)</text>
<path d="M598.9000000000001,569.4 L602.7,573 L606.5,569.4" stroke-width="1.3" />
<text x="579.77" y="578.8" font-size="12.8"  textLength="15.59" lengthAdjust="spacingAndGlyphs">A3</text>
<text x="610.82" y="578.8" font-size="12.8"  textLength="14.43" lengthAdjust="spacingAndGlyphs">C1</text>
<polyline points="602.7,573 615.2,585.7 707.4,585.7" stroke-width="1.4"/>
<line x1="716.4" y1="585.7" x2="891.5" y2="585.7" stroke-width="1.4"/>
<polyline points="603.8,573 603.8,653.2 707.4,653.2" stroke-width="1.4"/>
<line x1="716.4" y1="653.2" x2="891.5" y2="653.2" stroke-width="1.4"/>
<text x="554.30" y="618.3" font-size="12.8"  textLength="45.83" lengthAdjust="spacingAndGlyphs">0.8 PPL</text>
<text x="611.27" y="618.3" font-size="12.8"  textLength="22.02" lengthAdjust="spacingAndGlyphs">524</text>
<text x="697.29" y="572" font-size="12.8"  textLength="28.90" lengthAdjust="spacingAndGlyphs">P100</text>
<text x="742.39" y="581.4" font-size="12.8"  textLength="46.75" lengthAdjust="spacingAndGlyphs">0.8 PPL</text>
<text x="742.38" y="598.8" font-size="12.8"  textLength="21.70" lengthAdjust="spacingAndGlyphs">524</text>
<line x1="711.9" y1="596" x2="711.9" y2="680" stroke="#777" stroke-width="0.9" stroke-dasharray="3.6 3.6"/>
<line x1="711.9" y1="576.1999999999999" x2="711.9" y2="595.6" stroke="#aaa" stroke-width="2.2"/>
<path d="M710.3,576.1999999999999 L707.3,579.1 L707.3,592.6999999999999 L710.3,595.6 M713.4,576.1999999999999 L716.1,579.1 L716.1,592.6999999999999 L713.4,595.6" stroke-width="1.4" />
<line x1="710.3" y1="576.1999999999999" x2="710.3" y2="595.6" stroke-width="1.3"/>
<line x1="713.4" y1="576.1999999999999" x2="713.4" y2="595.6" stroke-width="1.3"/>
<line x1="710.3" y1="581.0" x2="713.4" y2="581.0" stroke-width="1.3"/>
<line x1="710.3" y1="590.8" x2="713.4" y2="590.8" stroke-width="1.3"/>
<line x1="711.9" y1="643.8" x2="711.9" y2="663.2" stroke="#aaa" stroke-width="2.2"/>
<path d="M710.3,643.8 L707.3,646.7 L707.3,660.3 L710.3,663.2 M713.4,643.8 L716.1,646.7 L716.1,660.3 L713.4,663.2" stroke-width="1.4" />
<line x1="710.3" y1="643.8" x2="710.3" y2="663.2" stroke-width="1.3"/>
<line x1="713.4" y1="643.8" x2="713.4" y2="663.2" stroke-width="1.3"/>
<line x1="710.3" y1="648.6" x2="713.4" y2="648.6" stroke-width="1.3"/>
<line x1="710.3" y1="658.4" x2="713.4" y2="658.4" stroke-width="1.3"/>
<line x1="711.9" y1="680.1999999999999" x2="711.9" y2="699.6" stroke="#aaa" stroke-width="2.2"/>
<path d="M710.3,680.1999999999999 L707.3,683.1 L707.3,696.6999999999999 L710.3,699.6 M713.4,680.1999999999999 L716.1,683.1 L716.1,696.6999999999999 L713.4,699.6" stroke-width="1.4" />
<line x1="710.3" y1="680.1999999999999" x2="710.3" y2="699.6" stroke-width="1.3"/>
<line x1="713.4" y1="680.1999999999999" x2="713.4" y2="699.6" stroke-width="1.3"/>
<line x1="710.3" y1="685.0" x2="713.4" y2="685.0" stroke-width="1.3"/>
<line x1="710.3" y1="694.8" x2="713.4" y2="694.8" stroke-width="1.3"/>
<path d="M891.5,574.4 L911.5,585.6 L891.5,596.8000000000001 Z" stroke-width="1.3" fill="#fff"/>
<text class="s" x="894.30" y="589.0" font-size="10" style="stroke-width:0.1px">G</text>
<path d="M891.5,641.8 L912.0,653 L891.5,664.2 Z" stroke-width="1.3" fill="#fff"/>
<text class="s" x="893.98" y="656.4" font-size="10" style="stroke-width:0.1px">H</text>
<path d="M891.5,678.4 L911.5,689.6 L891.5,700.8000000000001 Z" stroke-width="1.3" fill="#fff"/>
<text class="s" x="894.64" y="693.0" font-size="10" style="stroke-width:0.1px">J</text>
<text class="s" x="915.29" y="572.9" font-size="9.4"  textLength="22.53" lengthAdjust="spacingAndGlyphs">Body</text>
<text class="s" x="915.59" y="584.6" font-size="9.4"  textLength="32.29" lengthAdjust="spacingAndGlyphs">Control</text>
<text class="s" x="915.29" y="596.3" font-size="9.4"  textLength="32.34" lengthAdjust="spacingAndGlyphs">Module</text>
<text class="s" x="915.51" y="608.0" font-size="9.4"  textLength="27.38" lengthAdjust="spacingAndGlyphs">(BCM)</text>
<path d="M916,639 Q919.7,639 919.7,642.5 L919.7,673 Q919.7,676.5 923.2,676.5 Q919.7,676.5 919.7,680 L919.7,699.5 Q919.7,703 916,703" stroke-width="1.3" fill="none"/>
<text class="s" x="927.79" y="673.7" font-size="9.4"  textLength="55.45" lengthAdjust="spacingAndGlyphs">Multifunction</text>
<text class="s" x="928.14" y="685.2" font-size="9.4"  textLength="29.52" lengthAdjust="spacingAndGlyphs">Switch</text>
<rect x="975" y="13" width="31.5" height="30" stroke-width="2" fill="none"/>
<text class="s" x="979.38" y="24.2" font-size="10" >L</text>
<text class="s" x="985.73" y="32.6" font-size="10" >O</text>
<text class="s" x="992.99" y="38.6" font-size="10" >C</text>
<rect x="975" y="55" width="31.5" height="29.5" stroke-width="2" fill="none"/>
<text class="s" x="976.78" y="63.6" font-size="10" >D</text>
<text class="s" x="982.88" y="70.7" font-size="10" >E</text>
<text class="s" x="989.24" y="76.2" font-size="10" >S</text>
<text class="s" x="995.09" y="82.6" font-size="10" >C</text>
<rect x="975" y="96.5" width="31.5" height="30" stroke-width="2" fill="none"/>
<path d="M981.3,109 L991,109 L991,103.6 L1001,111.5 L991,118.8 L991,114.2 L981.3,114.2 Z" fill="#000" stroke="none"/>
</g>
</svg>
</body></html>
